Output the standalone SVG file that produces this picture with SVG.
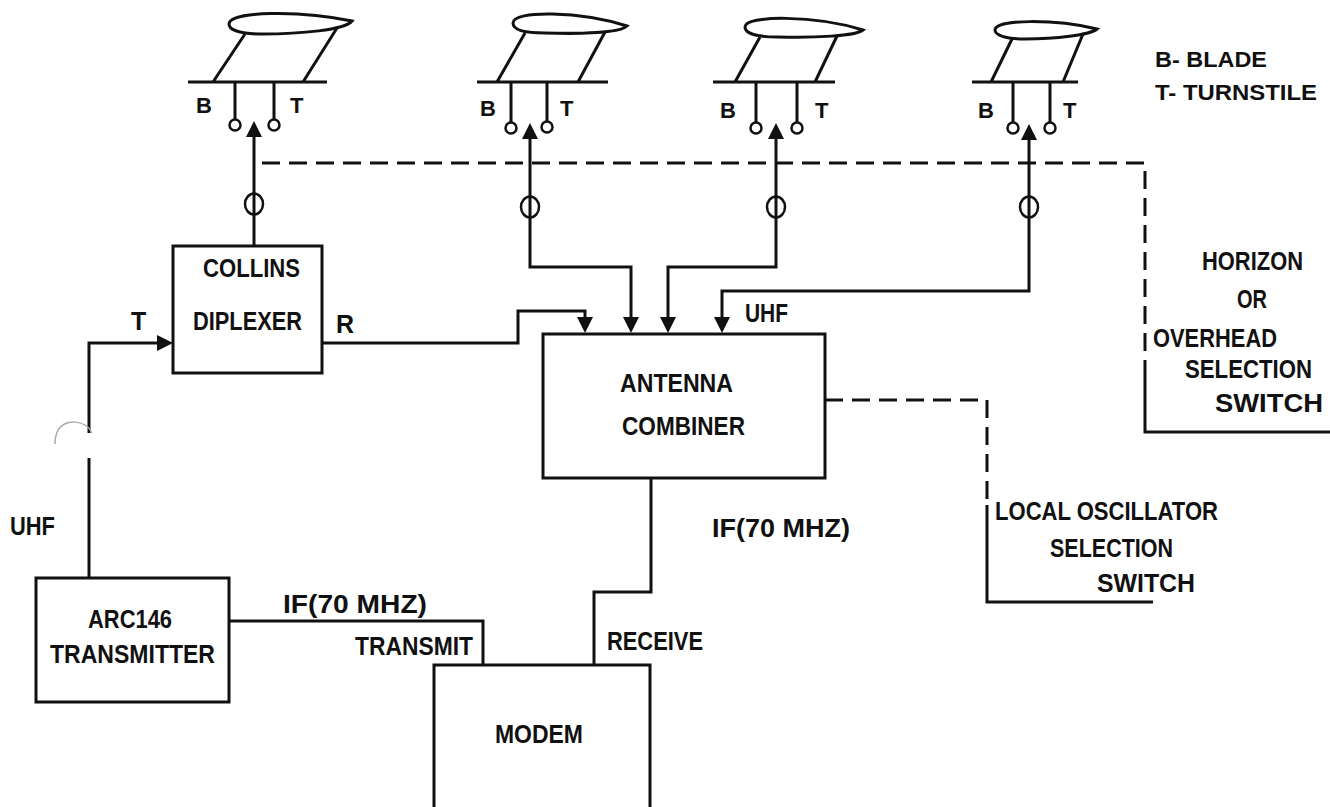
<svg xmlns="http://www.w3.org/2000/svg" width="1330" height="807" viewBox="0 0 1330 807">
<style>
.ln{fill:none;stroke:#111;stroke-width:3;stroke-linejoin:miter}
.dash{fill:none;stroke:#111;stroke-width:3;stroke-dasharray:18 9}
.box{fill:none;stroke:#111;stroke-width:3}
.ring{fill:none;stroke:#111;stroke-width:2.5}
.t{font-family:"Liberation Sans",Arial,sans-serif;font-weight:bold;font-size:25px;fill:#111}
.s{font-family:"Liberation Sans",Arial,sans-serif;font-weight:bold;font-size:22px;fill:#111}
</style>
<defs>
<marker id="arr" viewBox="0 0 16 16" refX="1" refY="8" markerWidth="16" markerHeight="16" markerUnits="userSpaceOnUse" orient="auto-start-reverse">
<path d="M0,0 L16,8 L0,16 Z" fill="#111"/>
</marker>
</defs>
<rect width="1330" height="807" fill="#ffffff"/>

<g id="antenna1">
<path class="ln" d="M229,24 C229,11 300,10 352,21 C345,30 300,34 262,34 C240,34 229,30 229,24 Z"/>
<path class="ln" d="M245,34 L213,82 M337,28 L303,82 M188,82 L327,82 M235,82 L235,120 M274,82 L274,120"/>
<circle class="ring" cx="235" cy="125" r="5.5"/>
<circle class="ring" cx="274" cy="125" r="5.5"/>
<text class="s" x="196" y="113">B</text>
<text class="s" x="290" y="113">T</text>
</g>

<g id="antenna2">
<path class="ln" d="M513,23 C513,10 580,11 627,26 C620,33 580,34 545,33 C522,33 513,29 513,23 Z"/>
<path class="ln" d="M525,33 L497,82 M605,32 L578,82 M477,82 L608,82 M511,82 L511,123 M547,82 L547,122"/>
<circle class="ring" cx="511" cy="128" r="5.5"/>
<circle class="ring" cx="547" cy="127" r="5.5"/>
<text class="s" x="480" y="116">B</text>
<text class="s" x="560" y="116">T</text>
</g>

<g id="antenna3">
<path class="ln" d="M745,27 C745,15 815,15 863,30 C856,36 815,38 778,37 C755,37 745,33 745,27 Z"/>
<path class="ln" d="M760,37 L735,82 M837,36 L815,82 M713,82 L835,82 M756,82 L756,123 M797,82 L797,123"/>
<circle class="ring" cx="756" cy="128" r="5.5"/>
<circle class="ring" cx="797" cy="128" r="5.5"/>
<text class="s" x="720" y="118">B</text>
<text class="s" x="815" y="118">T</text>
</g>

<g id="antenna4">
<path class="ln" d="M995,30 C995,19 1055,19 1097,29 C1090,35 1055,39 1025,39 C1005,39 995,35 995,30 Z"/>
<path class="ln" d="M1012,39 L991,82 M1083,34 L1063,82 M972,82 L1078,82 M1013,82 L1013,123 M1050,82 L1050,123"/>
<circle class="ring" cx="1013" cy="128" r="5.5"/>
<circle class="ring" cx="1050" cy="128" r="5.5"/>
<text class="s" x="978" y="118">B</text>
<text class="s" x="1063" y="118">T</text>
</g>

<g id="legend">
<text class="s" x="1155" y="67" textLength="112" lengthAdjust="spacingAndGlyphs">B- BLADE</text>
<text class="s" x="1155" y="100" textLength="162" lengthAdjust="spacingAndGlyphs">T- TURNSTILE</text>
</g>

<g id="diplexer">
<rect class="box" x="173" y="246" width="149" height="127"/>
<text class="t" x="203" y="277" textLength="97" lengthAdjust="spacingAndGlyphs">COLLINS</text>
<text class="t" x="193" y="330" textLength="109" lengthAdjust="spacingAndGlyphs">DIPLEXER</text>
</g>

<g id="combiner">
<rect class="box" x="543" y="334" width="282" height="144"/>
<text class="t" x="620" y="392" textLength="113" lengthAdjust="spacingAndGlyphs">ANTENNA</text>
<text class="t" x="622" y="435" textLength="123" lengthAdjust="spacingAndGlyphs">COMBINER</text>
</g>

<g id="transmitter">
<rect class="box" x="36" y="578" width="193" height="124"/>
<text class="t" x="88" y="628" textLength="84" lengthAdjust="spacingAndGlyphs">ARC146</text>
<text class="t" x="50" y="663" textLength="165" lengthAdjust="spacingAndGlyphs">TRANSMITTER</text>
</g>

<g id="modem">
<path class="box" d="M434,810 L434,665 L650,665 L650,810"/>
<text class="t" x="495" y="743" textLength="88" lengthAdjust="spacingAndGlyphs">MODEM</text>
</g>

<g id="horizon-switch">
<text class="t" x="1202" y="270" textLength="101" lengthAdjust="spacingAndGlyphs">HORIZON</text>
<text class="t" x="1237" y="308" textLength="30" lengthAdjust="spacingAndGlyphs">OR</text>
<text class="t" x="1153" y="347" textLength="124" lengthAdjust="spacingAndGlyphs">OVERHEAD</text>
<text class="t" x="1185" y="378" textLength="127" lengthAdjust="spacingAndGlyphs">SELECTION</text>
<text class="t" x="1215" y="412" textLength="108" lengthAdjust="spacingAndGlyphs">SWITCH</text>
</g>

<g id="lo-switch">
<text class="t" x="995" y="520" textLength="223" lengthAdjust="spacingAndGlyphs">LOCAL OSCILLATOR</text>
<text class="t" x="1050" y="557" textLength="123" lengthAdjust="spacingAndGlyphs">SELECTION</text>
<text class="t" x="1097" y="592" textLength="98" lengthAdjust="spacingAndGlyphs">SWITCH</text>
</g>

<g id="connectors">
<path class="ln" d="M254,246 L254,136" marker-end="url(#arr)"/>
<path class="ln" d="M530,138 L530,267 L631,267 L631,318" marker-start="url(#arr)" marker-end="url(#arr)"/>
<path class="ln" d="M776,138 L776,267 L668,267 L668,318" marker-start="url(#arr)" marker-end="url(#arr)"/>
<path class="ln" d="M1029,139 L1029,291 L722,291 L722,318" marker-start="url(#arr)" marker-end="url(#arr)"/>
<ellipse class="ring" cx="254" cy="204" rx="9" ry="10.5"/>
<ellipse class="ring" cx="530" cy="207" rx="9" ry="10.5"/>
<ellipse class="ring" cx="776" cy="207" rx="9" ry="10.5"/>
<ellipse class="ring" cx="1029" cy="207" rx="9" ry="10.5"/>
<path class="ln" d="M322,343 L518,343 L518,311 L585,311 L585,318" marker-end="url(#arr)"/>
<path class="ln" d="M89,578 L89,458"/>
<path class="ln" d="M89,433 L89,343 L158,343" marker-end="url(#arr)"/>
<path d="M92,433 C86,420 66,418 58,430 C55,436 55,440 55,444" fill="none" stroke="#aaa" stroke-width="1.5"/>
<path class="ln" d="M229,621 L483,621 L483,665"/>
<path class="ln" d="M651,478 L651,592 L594,592 L594,665"/>
<path class="dash" d="M262,163 L1145,163 L1145,365"/>
<path class="ln" d="M1145,365 L1145,432 L1330,432"/>
<path class="dash" d="M825,400 L987,400 L987,505"/>
<path class="ln" d="M987,505 L987,602 L1153,602"/>
<text class="t" x="131" y="330">T</text>
<text class="t" x="10" y="535" textLength="45" lengthAdjust="spacingAndGlyphs">UHF</text>
<text class="t" x="336" y="333">R</text>
<text class="t" x="745" y="322" textLength="43" lengthAdjust="spacingAndGlyphs">UHF</text>
<text class="t" x="712" y="537" textLength="138" lengthAdjust="spacingAndGlyphs">IF(70 MHZ)</text>
<text class="t" x="283" y="613" textLength="144" lengthAdjust="spacingAndGlyphs">IF(70 MHZ)</text>
<text class="t" x="355" y="655" textLength="118" lengthAdjust="spacingAndGlyphs">TRANSMIT</text>
<text class="t" x="607" y="650" textLength="96" lengthAdjust="spacingAndGlyphs">RECEIVE</text>
</g>
</svg>
